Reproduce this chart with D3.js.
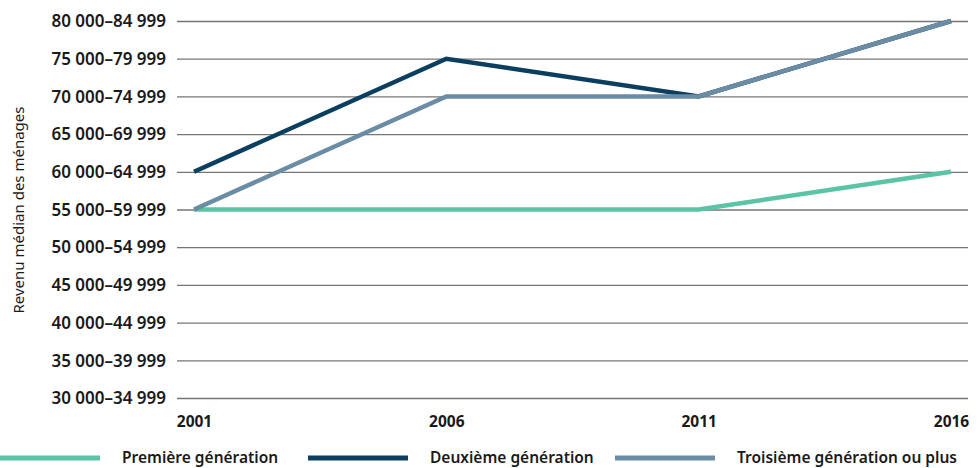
<!DOCTYPE html>
<html>
<head>
<meta charset="utf-8">
<script src="https://cdn.jsdelivr.net/npm/d3@7"></script>
<style>
  body { margin: 0; background: #fff; }
  svg text { font-family: "Noto Sans", "DejaVu Sans", sans-serif; fill: #1a1a1a; }
</style>
</head>
<body>
<svg id="chart" width="980" height="468"></svg>
<script>
// Income brackets, lowest to highest
const brackets = [
  "30 000–34 999", "35 000–39 999", "40 000–44 999", "45 000–49 999",
  "50 000–54 999", "55 000–59 999", "60 000–64 999", "65 000–69 999",
  "70 000–74 999", "75 000–79 999", "80 000–84 999"
];
const years = ["2001", "2006", "2011", "2016"];

// Median household income bracket per census year
const firstGen  = ["55 000–59 999", "55 000–59 999", "55 000–59 999", "60 000–64 999"];
const secondGen = ["60 000–64 999", "75 000–79 999", "70 000–74 999", "80 000–84 999"];
const thirdGen  = ["55 000–59 999", "70 000–74 999", "70 000–74 999", "80 000–84 999"];

const seriesNames = ["Première génération", "Deuxième génération", "Troisième génération ou plus"];
const seriesColors = ["#5cc4a6", "#0b3f5f", "#6a8ca4"];

const series = [firstGen, secondGen, thirdGen].map((vals, i) => ({
  name: seriesNames[i], color: seriesColors[i],
  values: vals.map((v, j) => ({ year: years[j], bracket: v }))
}));

const svg = d3.select("#chart");

const x = d3.scalePoint().domain(years).range([194, 951]);
const y = d3.scalePoint().domain(brackets).range([398, 21]);

// Horizontal gridlines with bracket labels
const yAxis = svg.append("g")
  .attr("transform", "translate(177,0)")
  .call(d3.axisLeft(y).tickSize(-791).tickPadding(11));
yAxis.select(".domain").remove();
yAxis.selectAll(".tick line").attr("stroke", "#767676").attr("stroke-width", 1.3);
yAxis.selectAll(".tick text")
  .attr("font-size", 17).attr("font-weight", 600).attr("fill", "#1a1a1a")
  .attr("dy", "0.34em");

// Year labels
const xAxis = svg.append("g")
  .attr("transform", "translate(0,398)")
  .call(d3.axisBottom(x).tickSize(0).tickPadding(18));
xAxis.select(".domain").remove();
xAxis.selectAll(".tick text")
  .attr("font-size", 15.5).attr("font-weight", 700).attr("fill", "#1a1a1a");

// Axis title
svg.append("text")
  .attr("transform", "translate(24,210) rotate(-90)")
  .attr("text-anchor", "middle")
  .attr("font-size", 15)
  .text("Revenu médian des ménages");

// Series lines
const line = d3.line().x(d => x(d.year)).y(d => y(d.bracket));
svg.append("g").selectAll("path")
  .data(series)
  .join("path")
  .attr("d", d => line(d.values))
  .attr("fill", "none")
  .attr("stroke", d => d.color)
  .attr("stroke-width", 4.5)
  .attr("stroke-linejoin", "miter");

// Legend
const legendX = [0, 308, 615];
const legend = svg.append("g").selectAll("g")
  .data(series)
  .join("g")
  .attr("transform", (d, i) => `translate(${legendX[i]},458)`);
legend.append("line")
  .attr("x1", 0).attr("x2", 100)
  .attr("stroke", d => d.color).attr("stroke-width", 5);
legend.append("text")
  .attr("x", 122).attr("dy", "0.35em")
  .attr("font-size", 15.5).attr("font-weight", 600)
  .text(d => d.name);
</script>
</body>
</html>
